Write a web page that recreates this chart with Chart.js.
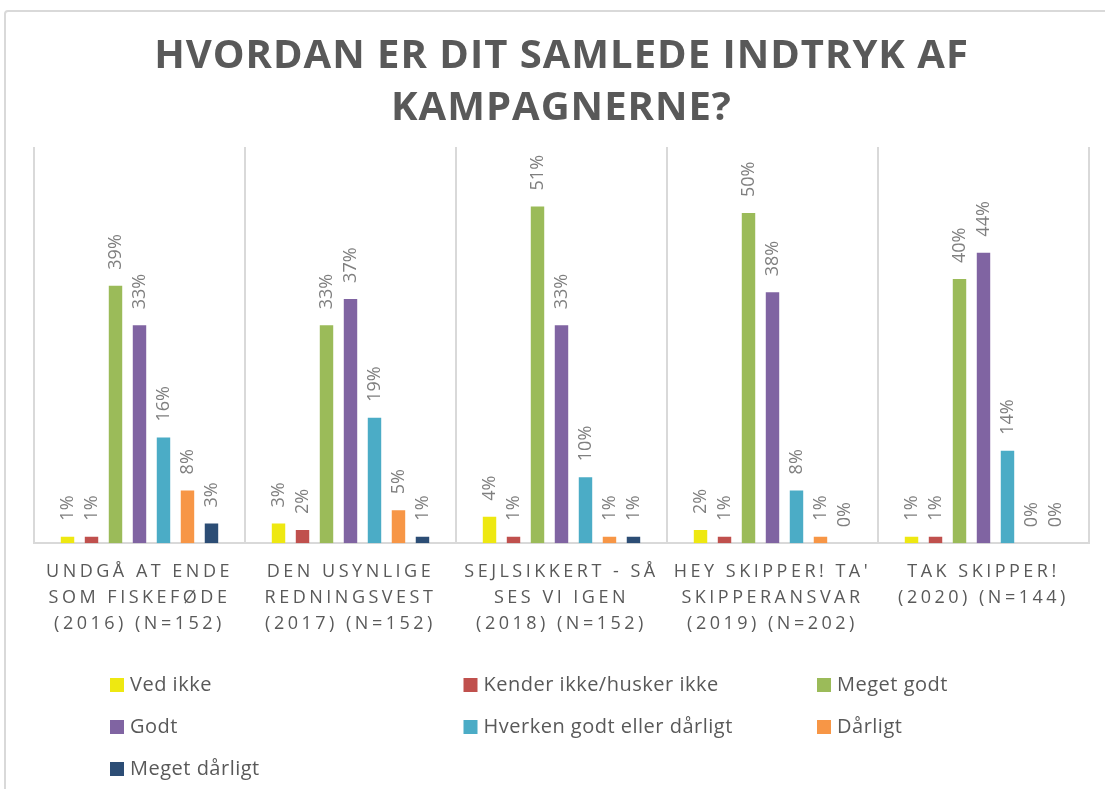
<!DOCTYPE html>
<html><head><meta charset="utf-8">
<script src="https://cdn.jsdelivr.net/npm/chart.js@4.4.1/dist/chart.umd.min.js"></script>
<style>
html,body{margin:0;padding:0;background:#fff;overflow:hidden;}
#frame{position:absolute;left:4px;top:10px;width:1200px;height:900px;border:2px solid #d9d9d9;border-radius:4px;box-sizing:border-box;}
#wrap{position:absolute;left:0;top:0;width:1105px;height:789px;}
</style></head><body>
<div id="frame"></div>
<div id="wrap"><canvas id="c"></canvas></div>
<script>
const titleLines = ['HVORDAN ER DIT SAMLEDE INDTRYK AF', 'KAMPAGNERNE?'];
const categories = [
  ['UNDGÅ AT ENDE', 'SOM FISKEFØDE', '(2016) (N=152)'],
  ['DEN USYNLIGE', 'REDNINGSVEST', '(2017) (N=152)'],
  ['SEJLSIKKERT - SÅ', 'SES VI IGEN', '(2018) (N=152)'],
  ["HEY SKIPPER! TA'", 'SKIPPERANSVAR', '(2019) (N=202)'],
  ['TAK SKIPPER!', '(2020) (N=144)']
];
const seriesNames = ['Ved ikke', 'Kender ikke/husker ikke', 'Meget godt', 'Godt', 'Hverken godt eller dårligt', 'Dårligt', 'Meget dårligt'];
const seriesColors = ['#EEE811', '#C0504D', '#9BBB59', '#8064A2', '#4BACC6', '#F79646', '#2C4D75'];
const vedIkke       = [1, 3, 4, 2, 1];
const kenderIkke    = [1, 2, 1, 1, 1];
const megetGodt     = [39, 33, 51, 50, 40];
const godt          = [33, 37, 33, 38, 44];
const hverken       = [16, 19, 10, 8, 14];
const daarligt      = [8, 5, 1, 1, 0];
const megetDaarligt = [3, 1, 1, 0, 0];
const seriesValues = [vedIkke, kenderIkke, megetGodt, godt, hverken, daarligt, megetDaarligt];
const yMin = 0, yMax = 60;

const spacingPlugin = {
  id: 'letterSpacing',
  beforeDraw(chart) {
    const ctx = chart.ctx;
    const tb = chart.titleBlock;
    if (tb && !tb.__ls) {
      const o = tb.draw;
      tb.draw = function (...a) { ctx.save(); ctx.letterSpacing = '1px'; o.apply(this, a); ctx.restore(); };
      tb.__ls = true;
    }
    const sx = chart.scales.x;
    if (sx && !sx.__ls) {
      const o = sx.drawLabels;
      sx.drawLabels = function (...a) { ctx.save(); ctx.letterSpacing = '3.5px'; o.apply(this, a); ctx.restore(); };
      sx.__ls = true;
    }
  }
};

const valueLabelPlugin = {
  id: 'valueLabels',
  afterDatasetsDraw(chart) {
    const ctx = chart.ctx;
    ctx.save();
    ctx.font = '18px "Open Sans"';
    ctx.fillStyle = '#7F7F7F';
    ctx.textAlign = 'left';
    ctx.textBaseline = 'middle';
    chart.data.datasets.forEach((ds, i) => {
      const meta = chart.getDatasetMeta(i);
      meta.data.forEach((bar, j) => {
        const v = ds.data[j];
        ctx.save();
        ctx.translate(bar.x, bar.y - 16);
        ctx.rotate(-Math.PI / 2);
        ctx.fillText(v + '%', 0, 0);
        ctx.restore();
      });
    });
    ctx.restore();
  }
};

const gridLegendPlugin = {
  id: 'gridLegend',
  afterDraw(chart) {
    const ctx = chart.ctx;
    const ds = chart.data.datasets;
    const cols = 3;
    const left = chart.chartArea.left + 76;
    const colW = 353.5;
    const top = chart.scales.x.bottom + 32;
    const rowH = 42;
    ctx.save();
    ctx.font = '20px "Open Sans"';
    ctx.letterSpacing = '0.5px';
    ctx.textAlign = 'left';
    ctx.textBaseline = 'middle';
    ds.forEach((d, i) => {
      const x = left + (i % cols) * colW;
      const y = top + Math.floor(i / cols) * rowH;
      ctx.fillStyle = d.backgroundColor;
      ctx.fillRect(x, y - 7, 14, 14);
      ctx.fillStyle = '#595959';
      ctx.fillText(d.label, x + 20, y);
    });
    ctx.restore();
  }
};

new Chart(document.getElementById('c'), {
  type: 'bar',
  data: {
    labels: categories,
    datasets: seriesNames.map((n, i) => ({
      label: n,
      data: seriesValues[i],
      backgroundColor: seriesColors[i],
      borderWidth: 0,
      categoryPercentage: 0.796,
      barPercentage: 0.56
    }))
  },
  plugins: [spacingPlugin, valueLabelPlugin, gridLegendPlugin],
  options: {
    responsive: true,
    maintainAspectRatio: false,
    animation: false,
    layout: { padding: { left: 34, right: 16, top: 0, bottom: 136 } },
    plugins: {
      legend: { display: false },
      tooltip: { enabled: false },
      title: {
        display: true,
        fullSize: false,
        text: titleLines,
        color: '#595959',
        font: { family: 'Open Sans', size: 40, weight: 'bold', lineHeight: 1.3 },
        padding: { top: 31, bottom: 12 }
      }
    },
    scales: {
      x: {
        grid: { color: '#D9D9D9', lineWidth: 2, drawTicks: false, offset: true },
        border: { color: '#D9D9D9', width: 2 },
        ticks: {
          color: '#595959',
          font: { family: 'Open Sans', size: 18, lineHeight: 1.44 },
          padding: 16, maxRotation: 0, minRotation: 0, autoSkip: false
        }
      },
      y: { display: false, min: yMin, max: yMax }
    }
  }
});
</script>
</body></html>
